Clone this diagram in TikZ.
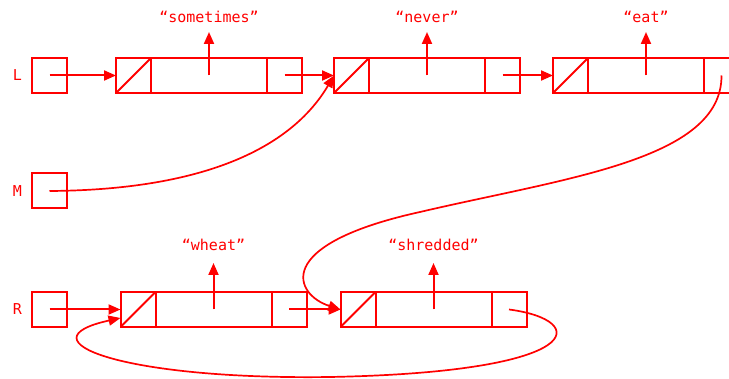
\documentclass[tikz,border=0pt]{standalone}
\usepackage{fontspec}
\setmonofont{DejaVu Sans Mono}
\usepackage{tikz}
\usetikzlibrary{arrows.meta,positioning}

\begin{document}
\begin{tikzpicture}[x=1pt,y=-1pt,->,>={Triangle[length=12pt,width=10pt]},red,line width=2pt]

    \tikzstyle{cell}=[draw,rectangle,minimum width=35pt,minimum height=35pt,inner sep=0pt,outer sep=0pt]
    \tikzstyle{slash}=[cell,path picture={\draw[-] (path picture bounding box.south west) -- (path picture bounding box.north east);}]
    \tikzstyle{data}=[cell,minimum width=116pt]
    \tikzstyle{lbl}=[font=\ttfamily\fontsize{15}{18}\selectfont,text=red,inner sep=0pt]
    \tikzstyle{bent}=[line width=1.7pt]

    \useasboundingbox (0,0) rectangle (729,379);

    % variables
    \node[cell] (L) at (49.5,75.5) {};
    \node[cell] (M) at (49.5,191)  {};
    \node[cell] (R) at (49.5,309.5) {};
    \node[lbl] [left=9pt of L] (nL) {L};
    \node[lbl] [left=9pt of M] (nM) {M};
    \node[lbl] [left=9pt of R] (nR) {R};

    % top list
    \node[slash] (a1) at (133.5,75.5) {};
    \node[data]  (a2) [right=0pt of a1] {};
    \node[cell]  (a3) [right=0pt of a2] {};
    \node[slash] (b1) [right=32pt of a3] {};
    \node[data]  (b2) [right=0pt of b1] {};
    \node[cell]  (b3) [right=0pt of b2] {};
    \node[slash] (c1) [right=33pt of b3] {};
    \node[data]  (c2) [right=0pt of c1] {};
    \node[cell]  (c3) [right=0pt of c2] {};

    % bottom list
    \node[slash] (d1) at (138,309.5) {};
    \node[data]  (d2) [right=0pt of d1] {};
    \node[cell]  (d3) [right=0pt of d2] {};
    \node[slash] (e1) [right=34pt of d3] {};
    \node[data]  (e2) [right=0pt of e1] {};
    \node[cell]  (e3) [right=0pt of e2] {};

    % strings
    \node[lbl,anchor=base] (ta) at (a2.center |- 0,23)  {“sometimes”};
    \node[lbl,anchor=base] (tb) at (b2.center |- 0,23)  {“never”};
    \node[lbl,anchor=base] (tc) at (c2.center |- 0,23)  {“eat”};
    \node[lbl,anchor=base] (td) at (d2.center |- 0,251) {“wheat”};
    \node[lbl,anchor=base] (te) at (e2.center |- 0,251) {“shredded”};

    \draw[shorten >=9pt]  (a2.center) -- (a2.center |- ta.base);
    \draw[shorten >=9pt]  (b2.center) -- (b2.center |- tb.base);
    \draw[shorten >=9pt]  (c2.center) -- (c2.center |- tc.base);
    \draw[shorten >=12pt] (d2.center) -- (d2.center |- td.base);
    \draw[shorten >=12pt] (e2.center) -- (e2.center |- te.base);

    % pointers
    \draw (L.center)  -- (a1.west);
    \draw (a3.center) -- (b1.west);
    \draw (b3.center) -- (c1.west);
    \draw (R.center)  -- (d1.west);
    \draw (d3.center) -- (e1.west);
    \draw[bent] (M.center) .. controls (200,190) and (290,150) .. (b1.west);
    \draw[bent] (c3.center) .. controls (722,160) and (565,178) .. (420,212)
                            .. controls (270,245) and (295,295) .. (e1.west);
    \draw[bent] (e3.center) .. controls (590,320) and (590,372) .. (330,377)
                            .. controls (120,380) and (20,340) .. ([yshift=-8.5pt]d1.west);
\end{tikzpicture}
\end{document}
